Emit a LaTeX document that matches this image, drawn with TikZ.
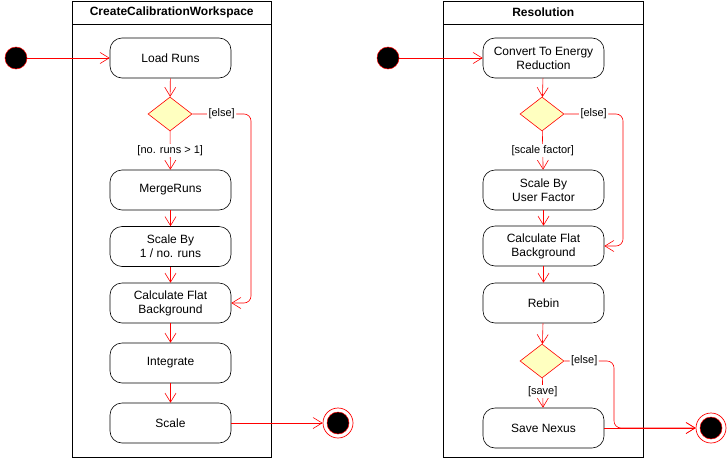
\documentclass[tikz,border=0pt]{standalone}
\usepackage{fontspec}
\setmainfont{Liberation Sans}
\usetikzlibrary{shapes.geometric,arrows.meta}
\definecolor{umlred}{RGB}{255,0,0}
\definecolor{diafill}{RGB}{255,255,192}
\tikzset{
  act/.style={draw=black, line width=0.6pt, rounded corners=12pt, minimum width=121pt, minimum height=40pt, align=center, inner sep=1pt, font=\fontsize{12}{14}\selectfont},
  dec/.style={diamond, draw=umlred, fill=diafill, line width=0.6pt, minimum width=44pt, minimum height=34pt, inner sep=0pt},
  startnode/.style={circle, draw=umlred, fill=black, line width=0.5pt, minimum size=22pt, inner sep=0pt},
  endnode/.style={circle, draw=umlred, fill=white, line width=0.7pt, minimum size=30pt, inner sep=0pt,
     path picture={\fill[black,draw=umlred,line width=0.5pt] (path picture bounding box.center) circle (11pt);}},
  flow/.style={draw=umlred, line width=0.6pt, -{Straight Barb[length=9pt,width=11pt,line width=0.6pt]}},
  lbl/.style={fill=white, inner sep=1.5pt, font=\fontsize{11}{12}\selectfont},
  lane/.style={draw=black, line width=0.8pt},
  lanetitle/.style={font=\bfseries\fontsize{12}{14}\selectfont}
}
\begin{document}
\begin{tikzpicture}[x=1pt,y=-1pt]
\useasboundingbox (0,0) rectangle (727,463);
% swimlanes
\draw[lane] (72,1.5) rectangle (271.5,457.5);
\draw[lane] (72,24) -- (271.5,24);
\node[lanetitle] (t1) at (171.75,12.5) {CreateCalibrationWorkspace};
\draw[lane] (443.5,1.5) rectangle (643,457.5);
\draw[lane] (443.5,24) -- (643,24);
\node[lanetitle] (t2) at (543.25,12.5) {Resolution};

% left flow
\node[startnode] (s1) at (16,58) {};
\node[act] (lr) at (170.5,58) {Load Runs};
\node[dec] (d1) at (170,114) {};
\node[act] (mr) at (170.5,190) {MergeRuns};
\node[act] (sb) at (170.5,246.5) {Scale By\\1 / no. runs};
\node[act] (cf) at (170.5,303) {Calculate Flat\\Background};
\node[act] (in) at (170.5,363) {Integrate};
\node[act] (sc) at (170.5,423) {Scale};
\node[endnode] (e1) at (338,423) {};
\coordinate (c1a) at (251,114);
\coordinate (c1b) at (251,303);

\draw[flow] (s1) -- (lr);
\draw[flow] (lr) -- (d1);
\draw[flow] (d1) -- node[lbl, pos=0.5] {[no. runs > 1]} (mr);
\draw[flow, rounded corners=7pt] (d1.east) -- node[lbl] {[else]} (c1a) -- (c1b) -- (cf.east);
\draw[flow] (mr) -- (sb);
\draw[flow] (sb) -- (cf);
\draw[flow] (cf) -- (in);
\draw[flow] (in) -- (sc);
\draw[flow] (sc) -- (e1);

% right flow
\node[startnode] (s2) at (388,58) {};
\node[act] (ce) at (543.5,58) {Convert To Energy\\Reduction};
\node[dec] (d2) at (542,114) {};
\node[act] (su) at (543.5,190) {Scale By\\User Factor};
\node[act] (cf2) at (543.5,246) {Calculate Flat\\Background};
\node[act] (rb) at (543.5,303) {Rebin};
\node[dec] (d3) at (542,361) {};
\node[act] (sn) at (543.5,428) {Save Nexus};
\node[endnode] (e2) at (711,428) {};
\coordinate (c2a) at (623,114);
\coordinate (c2b) at (623,246);
\coordinate (c3a) at (614,361);
\coordinate (c3b) at (614,428);

\draw[flow] (s2) -- (ce);
\draw[flow] (ce) -- (d2);
\draw[flow] (d2) -- node[lbl] {[scale factor]} (su);
\draw[flow, rounded corners=7pt] (d2.east) -- node[lbl] {[else]} (c2a) -- (c2b) -- (cf2.east);
\draw[flow] (su) -- (cf2);
\draw[flow] (cf2) -- (rb);
\draw[flow] (rb) -- (d3);
\draw[flow] (d3) -- node[lbl, pos=0.45] {[save]} (sn);
\draw[flow, rounded corners=7pt] (d3.east) -- node[lbl, pos=0.4] {[else]} (c3a) -- (c3b) -- (e2.west);
\draw[flow] (sn) -- (e2);
\end{tikzpicture}
\end{document}
